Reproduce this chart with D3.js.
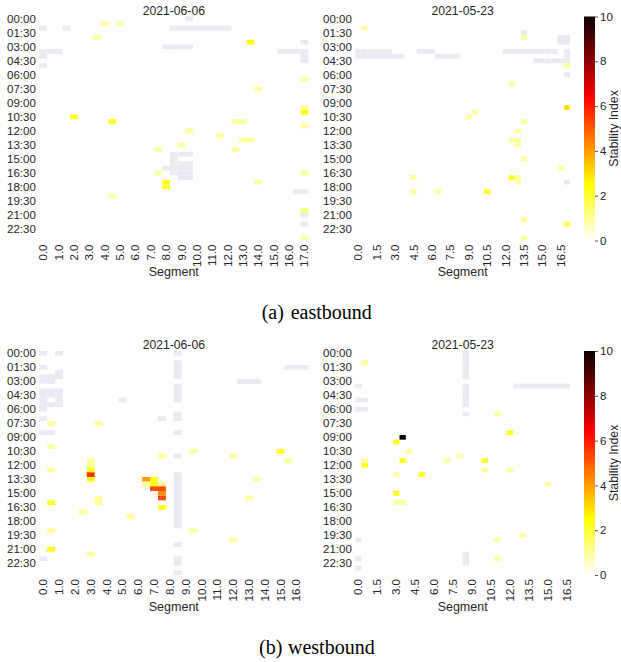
<!DOCTYPE html>
<html>
<head>
<meta charset="utf-8">
<script src="https://d3js.org/d3.v7.min.js"></script>
<style>
    body { margin: 0; background: #fff; }
    svg { display: block; font-family: "Liberation Sans", Arial, sans-serif; }
</style>
</head>
<body>
<script>
"use strict";
// Time-of-day slots (30 min) and the tick labels shown on the y axis
const timeSlots = d3.range(48);
const timeLabels = ["00:00", "01:30", "03:00", "04:30", "06:00", "07:30", "09:00", "10:30",
    "12:00", "13:30", "15:00", "16:30", "18:00", "19:30", "21:00", "22:30"];

// Segment categories for each direction
const segmentsEast = d3.range(0, 17.5, 0.5);   // 0.0 .. 17.0
const segmentsWest = d3.range(0, 17, 0.5);     // 0.0 .. 16.5

// Cells with a stability value: [time slot, segment, stability index]
const east0606 = [[1,4,1],[1,5,1],[4,3.5,1],[5,13.5,2.3],[13,17,1],[15,14,1],[19,17,1],[20,17,2.5],
    [21,2,2.3],[22,4.5,2.3],[22,12.5,1],[22,13,1],[23,17,1],[24,9.5,1],[25,11.5,1],[26,13,1],
    [26,13.5,1],[27,9,1],[28,7.5,1],[28,12.5,1],[33,7.5,1],[33,17,1],[35,14,1],[35,8,2.2],
    [36,8,2.2],[38,4.5,1],[41,17,1.3],[47,17,1]];
const east0523 = [[2,0.5,1],[4,13.5,1],[10,17,1],[14,12.5,1],[19,17,3],[20,9.5,1],[21,9,1],
    [22,13.5,1],[24,13,1],[26,12.5,1],[26,13,1],[27,13,1],[30,13.5,1],[32,16.5,1],[34,4.5,1],
    [34,12.5,2.3],[34,13,1],[35,13,1],[37,4.5,1],[37,6.5,1],[37,10.5,2.3],[43,13.5,1],
    [44,17,1.8],[47,13.5,1]];
const west0606 = [[15,0.5,1],[15,3.5,1],[20,0.5,1],[21,9.5,1],[21,15,2.3],[22,7.5,1],[22,12,1],
    [23,15.5,1],[23,3,1],[24,3,1],[25,3,2.3],[26,3,5.6],[27,3,2.2],[25,0.5,1],[27,6.5,4],
    [27,7,2.3],[27,13.5,1],[28,6.5,1],[28,7,2.3],[28,7.5,1],[29,7,5.2],[29,7.5,5.2],[30,7.5,4.2],
    [31,7.5,5.2],[31,13,1],[31,3.5,1],[32,3.5,1],[32,0.5,2.3],[33,7.5,2.3],[34,2.5,1],[35,5.5,1],
    [38,0.5,1],[38,9.5,1],[40,12,1],[42,0.5,2.3],[43,3,1]];
const west0523 = [[2,0.5,1],[13,11,1],[17,12,2.3],[18,3.5,10],[19,3,2.3],[21,4,1],[22,8,1],
    [23,0.5,1],[23,3.5,2.3],[23,7,1],[23,10,2.3],[24,0.5,2.2],[25,10,1],[25,12,1],[26,3,1],
    [26,5,2.3],[28,15,1],[30,3,2.3],[32,3,1],[32,3.5,1],[39,13,1],[40,11,1],[44,11,1]];

// Missing data blocks: [first slot, last slot, first segment, last segment]
const eastMissing0606 = [[0,0,9.5,9.5],[2,2,0,0],[2,2,1.5,1.5],[2,2,8.5,12],[5,5,17,17],
    [6,6,8,9.5],[7,7,0,1],[7,7,15.5,17],[8,8,0,0],[8,9,17,17],[10,10,0,0],[29,29,8.5,9.5],
    [30,30,8.5,8.5],[31,31,8.5,9.5],[32,32,8,9.5],[33,33,8.5,9.5],[34,34,9,9.5],[37,37,16.5,17],
    [42,42,17,17],[44,44,17,17]];
const eastMissing0523 = [[3,3,13.5,13.5],[4,5,16.5,17],[7,7,0,2.5],[7,7,5,6],[7,7,12,16],
    [7,8,17,17],[8,8,0,3.5],[8,8,6.5,8],[9,9,14.5,17],[12,12,17,17],[35,35,17,17]];
const westMissing0606 = [[0,0,0,0],[0,0,1,1],[3,3,0,0],[4,4,1,1],[5,5,0,1],[6,6,0,0.5],
    [8,9,0,1],[10,10,0,0],[10,10,1,1],[11,11,0,1],[12,12,0,0],[14,14,0,0],[17,17,0,0.5],
    [44,44,0,0],[0,0,8.5,8.5],[2,5,8.5,8.5],[7,10,8.5,8.5],[13,14,8.5,8.5],[17,17,8.5,8.5],
    [22,22,8.5,8.5],[26,37,8.5,8.5],[41,41,8.5,8.5],[44,45,8.5,8.5],[47,47,8.5,8.5],
    [3,3,15.5,16.5],[6,6,12.5,13.5],[10,10,5,5],[14,14,7.5,7.5]];
const westMissing0523 = [[0,5,8.5,8.5],[7,11,8.5,8.5],[13,13,8.5,8.5],[43,45,8.5,8.5],[7,7,0,0],
    [7,7,12.5,16.5],[10,10,0,0.5],[12,12,0,0.5],[40,40,0,0],[44,44,0,0],[46,46,0,0]];

const colorTicks = [0, 2, 4, 6, 8, 10];

(function(){
    const textColor = "#262626";
    const missingColor = "#eaeaf2";

    const svg = d3.select("body").append("svg")
        .attr("width", 621)
        .attr("height", 662);

    // matplotlib "hot" colormap, reversed so 0 is white and 10 is black
    function hot(t) {
        const r = t < 0.365079 ? 0.0416 + (1 - 0.0416) * t / 0.365079 : 1;
        const g = t < 0.365079 ? 0 : (t < 0.746032 ? (t - 0.365079) / (0.746032 - 0.365079) : 1);
        const b = t < 0.746032 ? 0 : (t - 0.746032) / (1 - 0.746032);
        return d3.rgb(r * 255, g * 255, b * 255).toString();
    }
    const color = d3.scaleSequential(t => hot(1 - t)).domain([0, 10]);

    // Panel layout
    const panels = [
        { title: "2021-06-06", segs: segmentsEast, cells: east0606, missing: eastMissing0606, every: 2, x0: 39.3, x1: 308.3, y0: 16.5, y1: 240.5 },
        { title: "2021-05-23", segs: segmentsEast, cells: east0523, missing: eastMissing0523, every: 3, x0: 355.3, x1: 570, y0: 16.5, y1: 240.5 },
        { title: "2021-06-06", segs: segmentsWest, cells: west0606, missing: westMissing0606, every: 2, x0: 39.3, x1: 308.3, y0: 351, y1: 575 },
        { title: "2021-05-23", segs: segmentsWest, cells: west0523, missing: westMissing0523, every: 3, x0: 355.3, x1: 570, y0: 351, y1: 575 }
    ];

    panels.forEach(drawHeatmap);
    drawColorbar(16.5, 240.5);
    drawColorbar(351, 575);
    drawCaption("(a)", "eastbound", 319);
    drawCaption("(b)", "westbound", 653.5);

    // Draws one heatmap panel with its axes
    function drawHeatmap(p) {
        const x = d3.scaleBand().domain(p.segs).range([p.x0, p.x1]);
        const y = d3.scaleBand().domain(timeSlots).range([p.y0, p.y1]);
        const g = svg.append("g");

        // expand missing blocks into cells
        const missingCells = [];
        p.missing.forEach(function(m) {
            timeSlots.filter(t => t >= m[0] && t <= m[1]).forEach(function(t) {
                p.segs.filter(s => s >= m[2] && s <= m[3]).forEach(s => missingCells.push([t, s]));
            });
        });

        g.selectAll(".missing")
            .data(missingCells)
            .enter()
            .append("rect")
                .attr("x", d => x(d[1]))
                .attr("y", d => y(d[0]))
                .attr("width", x.bandwidth())
                .attr("height", y.bandwidth())
                .attr("fill", missingColor);

        g.selectAll(".cell")
            .data(p.cells)
            .enter()
            .append("rect")
                .attr("x", d => x(d[1]))
                .attr("y", d => y(d[0]))
                .attr("width", x.bandwidth())
                .attr("height", y.bandwidth())
                .attr("fill", d => color(d[2]));

        // X axis, labels rotated
        const xAxis = d3.axisBottom(x)
            .tickValues(p.segs.filter((d, i) => i % p.every === 0))
            .tickFormat(d => d.toFixed(1))
            .tickSize(0);
        const gx = svg.append("g")
            .attr("transform", "translate(0," + p.y1 + ")")
            .call(xAxis);
        gx.select(".domain").remove();
        gx.selectAll("text")
            .attr("transform", "rotate(-90)")
            .attr("text-anchor", "end")
            .attr("x", -4)
            .attr("y", 0)
            .attr("dy", "0.35em")
            .attr("font-size", 11.5)
            .attr("font-family", "Liberation Sans, Arial, sans-serif")
            .attr("fill", textColor);

        // Y axis, every third slot
        const yAxis = d3.axisLeft(y)
            .tickValues(timeSlots.filter(t => t % 3 === 0))
            .tickFormat(t => timeLabels[t / 3])
            .tickSize(0)
            .tickPadding(3.5);
        const gy = svg.append("g")
            .attr("transform", "translate(" + p.x0 + ",0)")
            .call(yAxis);
        gy.select(".domain").remove();
        gy.selectAll("text")
            .attr("font-size", 11.5)
            .attr("font-family", "Liberation Sans, Arial, sans-serif")
            .attr("fill", textColor);

        // Title and axis label
        svg.append("text")
            .attr("x", (p.x0 + p.x1) / 2)
            .attr("y", p.y0 - 1.8)
            .attr("text-anchor", "middle")
            .attr("font-size", 12.2)
            .attr("fill", textColor)
            .text(p.title);

        svg.append("text")
            .attr("x", (p.x0 + p.x1) / 2)
            .attr("y", p.y1 + 35.5)
            .attr("text-anchor", "middle")
            .attr("font-size", 12.5)
            .attr("fill", textColor)
            .text("Segment");
    }

    // Draws the vertical colour bar next to a row of panels
    function drawColorbar(y0, y1) {
        const id = "grad" + Math.round(y0);
        const grad = svg.append("defs").append("linearGradient")
            .attr("id", id)
            .attr("x1", 0).attr("y1", 1)
            .attr("x2", 0).attr("y2", 0);
        d3.range(0, 10.01, 0.5).forEach(function(v) {
            grad.append("stop")
                .attr("offset", v / 10)
                .attr("stop-color", color(v));
        });

        svg.append("rect")
            .attr("x", 584)
            .attr("y", y0)
            .attr("width", 11)
            .attr("height", y1 - y0)
            .attr("fill", "url(#" + id + ")");

        const scale = d3.scaleLinear().domain([0, 10]).range([y1, y0]);
        const axis = svg.append("g")
            .attr("transform", "translate(595,0)")
            .call(d3.axisRight(scale).tickValues(colorTicks).tickSize(3).tickPadding(2));
        axis.select(".domain").remove();
        axis.selectAll("line").attr("stroke", textColor).attr("stroke-width", 0.8);
        axis.selectAll("text")
            .attr("font-size", 11.5)
            .attr("font-family", "Liberation Sans, Arial, sans-serif")
            .attr("fill", textColor);

        svg.append("text")
            .attr("transform", "translate(617.5," + (y0 + y1) / 2 + ") rotate(-90)")
            .attr("text-anchor", "middle")
            .attr("font-size", 12.3)
            .attr("fill", textColor)
            .text("Stability Index");
    }

    // Sub-figure caption in serif font
    function drawCaption(tag, label, baseline) {
        const cap = svg.append("g")
            .attr("font-family", "Liberation Serif, Times New Roman, serif")
            .attr("font-size", 20)
            .attr("fill", "#000");
        cap.append("text")
            .attr("x", label === "westbound" ? 259 : 261.7)
            .attr("y", baseline)
            .text(tag);
        cap.append("text")
            .attr("x", label === "westbound" ? 288 : 290.7)
            .attr("y", baseline)
            .text(label);
    }
})();
</script>
</body>
</html>
